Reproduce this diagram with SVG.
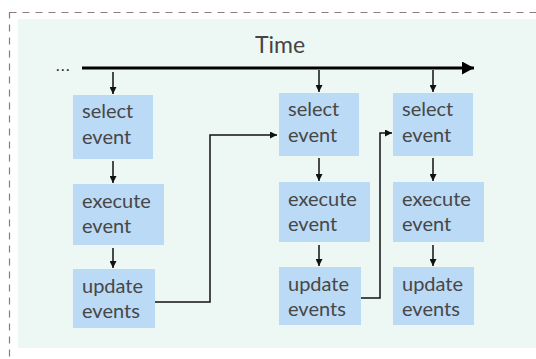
<svg xmlns="http://www.w3.org/2000/svg" width="536" height="359" viewBox="0 0 536 359">
<defs>
<style>
.box{fill:#bbdaf5}
.t{font-family:Lato,"Noto Sans",sans-serif;font-size:20px;fill:#474747}
.ca{fill:none;stroke:#111;stroke-width:1.5;marker-end:url(#ah)}
</style>
<marker id="ah" viewBox="0 0 10 10" refX="10" refY="5" markerWidth="7" markerHeight="7" markerUnits="userSpaceOnUse" orient="auto"><path d="M0,0 L10,5 L0,10 z" fill="#111"/></marker>
<marker id="big" viewBox="0 0 10 10" refX="10" refY="5" markerWidth="12" markerHeight="13" markerUnits="userSpaceOnUse" orient="auto" preserveAspectRatio="none"><path d="M0,0 L10,5 L0,10 z" fill="#000"/></marker>
</defs>
<rect x="9.5" y="12.5" width="540" height="360" fill="none" stroke="#8c7c7c" stroke-width="1.2" stroke-dasharray="7,6"/>
<rect x="18" y="19" width="518" height="329" fill="#edf8f4"/>
<text x="255" y="53" font-family="Lato,'Noto Sans',sans-serif" font-size="23" fill="#444">Time</text>
<text x="56" y="71" font-family="Lato,'Noto Sans',sans-serif" font-size="15" letter-spacing="1.5" fill="#222">...</text>
<g id="connectors">
<line x1="82" y1="68" x2="474" y2="68" stroke="#000" stroke-width="2.8" marker-end="url(#big)"/>
<line class="ca" x1="113" y1="72" x2="113" y2="94"/>
<line class="ca" x1="113" y1="161" x2="113" y2="183"/>
<line class="ca" x1="113" y1="248" x2="113" y2="268"/>
<polyline class="ca" points="155,302 210,302 210,135 277,135"/>
<line class="ca" x1="319" y1="70" x2="319" y2="92"/>
<line class="ca" x1="319" y1="158" x2="319" y2="181"/>
<line class="ca" x1="319" y1="245" x2="319" y2="266"/>
<polyline class="ca" points="361,298 380,298 380,133 392,133"/>
<line class="ca" x1="433" y1="70" x2="433" y2="92"/>
<line class="ca" x1="433" y1="158" x2="433" y2="181"/>
<line class="ca" x1="433" y1="245" x2="433" y2="266"/>
</g>
<g id="select1"><rect class="box" x="73" y="95" width="80" height="64"/><text class="t" x="82" y="118">select</text><text class="t" x="82" y="144">event</text></g>
<g id="execute1"><rect class="box" x="73" y="184" width="91" height="61"/><text class="t" x="82" y="208">execute</text><text class="t" x="82" y="233">event</text></g>
<g id="update1"><rect class="box" x="73" y="269" width="82" height="59"/><text class="t" x="82" y="293">update</text><text class="t" x="82" y="318">events</text></g>
<g id="select2"><rect class="box" x="279" y="93" width="80" height="63"/><text class="t" x="288" y="116">select</text><text class="t" x="288" y="142">event</text></g>
<g id="execute2"><rect class="box" x="279" y="182" width="91" height="60"/><text class="t" x="288" y="206">execute</text><text class="t" x="288" y="231">event</text></g>
<g id="update2"><rect class="box" x="279" y="267" width="82" height="58"/><text class="t" x="288" y="291">update</text><text class="t" x="288" y="316">events</text></g>
<g id="select3"><rect class="box" x="393" y="93" width="80" height="63"/><text class="t" x="402" y="116">select</text><text class="t" x="402" y="142">event</text></g>
<g id="execute3"><rect class="box" x="393" y="182" width="91" height="60"/><text class="t" x="402" y="206">execute</text><text class="t" x="402" y="231">event</text></g>
<g id="update3"><rect class="box" x="393" y="267" width="81" height="58"/><text class="t" x="402" y="291">update</text><text class="t" x="402" y="316">events</text></g>
</svg>
